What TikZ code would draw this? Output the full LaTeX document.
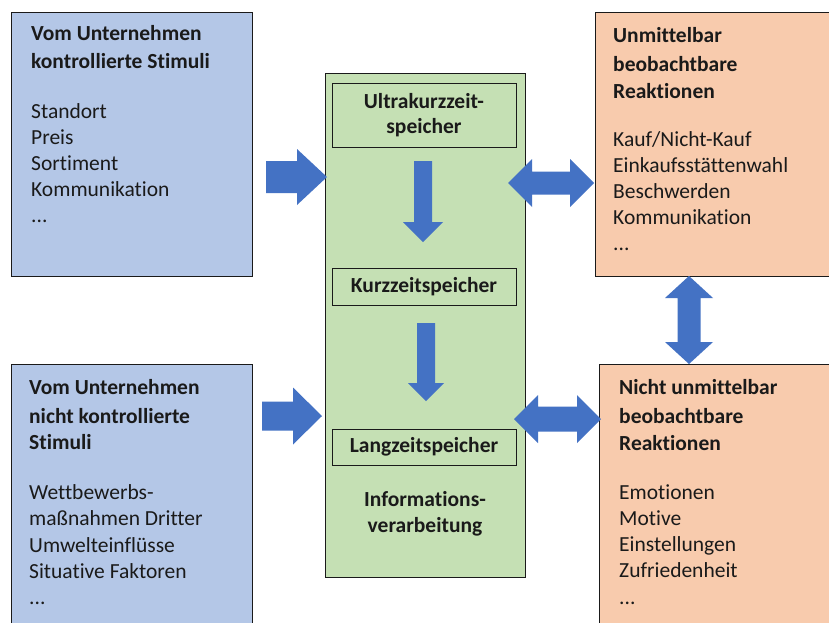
\documentclass[tikz,border=0pt]{standalone}
\usepackage{fontspec}
\setmainfont{Carlito}[Ligatures=NoCommon]
\definecolor{boxblue}{HTML}{B4C7E7}
\definecolor{boxgreen}{HTML}{C5E0B4}
\definecolor{boxorange}{HTML}{F8CBAD}
\definecolor{arrowblue}{HTML}{4472C4}
\definecolor{ink}{HTML}{1A1A1A}
\newcommand\BAright[6]{\fill[arrowblue] (#1,#3-#4) -- (#6,#3-#4) -- (#6,#3-#5) -- (#2,#3) -- (#6,#3+#5) -- (#6,#3+#4) -- (#1,#3+#4) -- cycle;}
\newcommand\BAboth[6]{\fill[arrowblue] (#1,#3) -- (#1+#6,#3-#5) -- (#1+#6,#3-#4) -- (#2-#6,#3-#4) -- (#2-#6,#3-#5) -- (#2,#3) -- (#2-#6,#3+#5) -- (#2-#6,#3+#4) -- (#1+#6,#3+#4) -- (#1+#6,#3+#5) -- cycle;}
\newcommand\BAupdown[6]{\fill[arrowblue] (#1,#2) -- (#1+#5,#2+#6) -- (#1+#4,#2+#6) -- (#1+#4,#3-#6) -- (#1+#5,#3-#6) -- (#1,#3) -- (#1-#5,#3-#6) -- (#1-#4,#3-#6) -- (#1-#4,#2+#6) -- (#1-#5,#2+#6) -- cycle;}
\newcommand\BAdown[6]{\fill[arrowblue] (#1-#4,#2) -- (#1+#4,#2) -- (#1+#4,#3-#6) -- (#1+#5,#3-#6) -- (#1,#3) -- (#1-#5,#3-#6) -- (#1-#4,#3-#6) -- cycle;}
\tikzset{
  panel/.style={draw=ink, line width=1.3pt, anchor=north west, inner sep=0pt},
  txt/.style={anchor=base west, inner sep=0pt, text=ink, font=\fontsize{21.5}{25}\selectfont},
  hd/.style={txt, font=\fontsize{21.5}{25}\selectfont\bfseries},
  ctr/.style={hd, anchor=base},
}
\begin{document}
\begin{tikzpicture}[x=1pt, y=-1pt]
\fill[white] (0,0) rectangle (829,622);
\useasboundingbox (0,0) rectangle (829,622);
\clip (0,0) rectangle (829,622);
% panels
\node[panel, fill=boxblue, minimum width=241pt, minimum height=264pt] (tl) at (11,12) {};
\node[panel, fill=boxblue, minimum width=241pt, minimum height=270pt] (bl) at (11,364) {};
\node[panel, fill=boxgreen, minimum width=200pt, minimum height=504pt] (mid) at (325,73) {};
\node[panel, fill=boxgreen, minimum width=184pt, minimum height=64pt] (ukz) at (332,83) {};
\node[panel, fill=boxgreen, minimum width=184pt, minimum height=37pt] (kz) at (332,268) {};
\node[panel, fill=boxgreen, minimum width=184pt, minimum height=36pt] (lz) at (332,429) {};
\node[panel, fill=boxorange, minimum width=250pt, minimum height=264pt] (tr) at (595,12) {};
\node[panel, fill=boxorange, minimum width=250pt, minimum height=270pt] (br) at (599,364) {};
% arrows
\BAright{266}{327}{177}{16}{28}{297}
\BAright{262}{322}{416}{14.5}{28.5}{293}
\BAboth{508}{594}{183}{11.5}{24}{24}
\BAboth{514}{601}{419}{12.5}{24}{24}
\BAupdown{689}{276}{364}{11.5}{24}{22}
\BAdown{423}{161}{242}{9}{20}{20}
\BAdown{426}{323}{401}{9}{18}{18}
% top-left text
\node[hd] (tl1) at (31,40) {Vom Unternehmen};
\node[hd] (tl2) at (31,68) {kontrollierte Stimuli};
\node[txt] (tl3) at (31,118) {Standort};
\node[txt] (tl4) at (31,144) {Preis};
\node[txt] (tl5) at (31,170) {Sortiment};
\node[txt] (tl6) at (31,196) {Kommunikation};
\node[txt] (tl7) at (31,222) {...};
% bottom-left text
\node[hd] (bl1) at (29,394) {Vom Unternehmen};
\node[hd] (bl2) at (29,423) {nicht kontrollierte};
\node[hd] (bl3) at (29,449) {Stimuli};
\node[txt] (bl4) at (29,499) {Wettbewerbs-};
\node[txt] (bl5) at (29,525.5) {maßnahmen Dritter};
\node[txt] (bl6) at (29,552) {Umwelteinflüsse};
\node[txt] (bl7) at (29,578) {Situative Faktoren};
\node[txt] (bl8) at (29,604) {...};
% middle text
\node[ctr] (m1) at (424,108) {Ultrakurzzeit-};
\node[ctr] (m2) at (424,133) {speicher};
\node[ctr] (m3) at (424,292) {Kurzzeitspeicher};
\node[ctr] (m4) at (424,452) {Langzeitspeicher};
\node[ctr] (m5) at (425,506) {Informations-};
\node[ctr] (m6) at (425,532) {verarbeitung};
% top-right text
\node[hd] (tr1) at (613,42) {Unmittelbar};
\node[hd] (tr2) at (613,71) {beobachtbare};
\node[hd] (tr3) at (613,98) {Reaktionen};
\node[txt] (tr4) at (613,146) {Kauf/Nicht-Kauf};
\node[txt] (tr5) at (613,172) {Einkaufsstättenwahl};
\node[txt] (tr6) at (613,198) {Beschwerden};
\node[txt] (tr7) at (613,224) {Kommunikation};
\node[txt] (tr8) at (613,250) {...};
% bottom-right text
\node[hd] (br1) at (619,394) {Nicht unmittelbar};
\node[hd] (br2) at (619,423) {beobachtbare};
\node[hd] (br3) at (619,450) {Reaktionen};
\node[txt] (br4) at (619,499) {Emotionen};
\node[txt] (br5) at (619,525) {Motive};
\node[txt] (br6) at (619,551) {Einstellungen};
\node[txt] (br7) at (619,577) {Zufriedenheit};
\node[txt] (br8) at (619,604) {...};
\end{tikzpicture}
\end{document}
